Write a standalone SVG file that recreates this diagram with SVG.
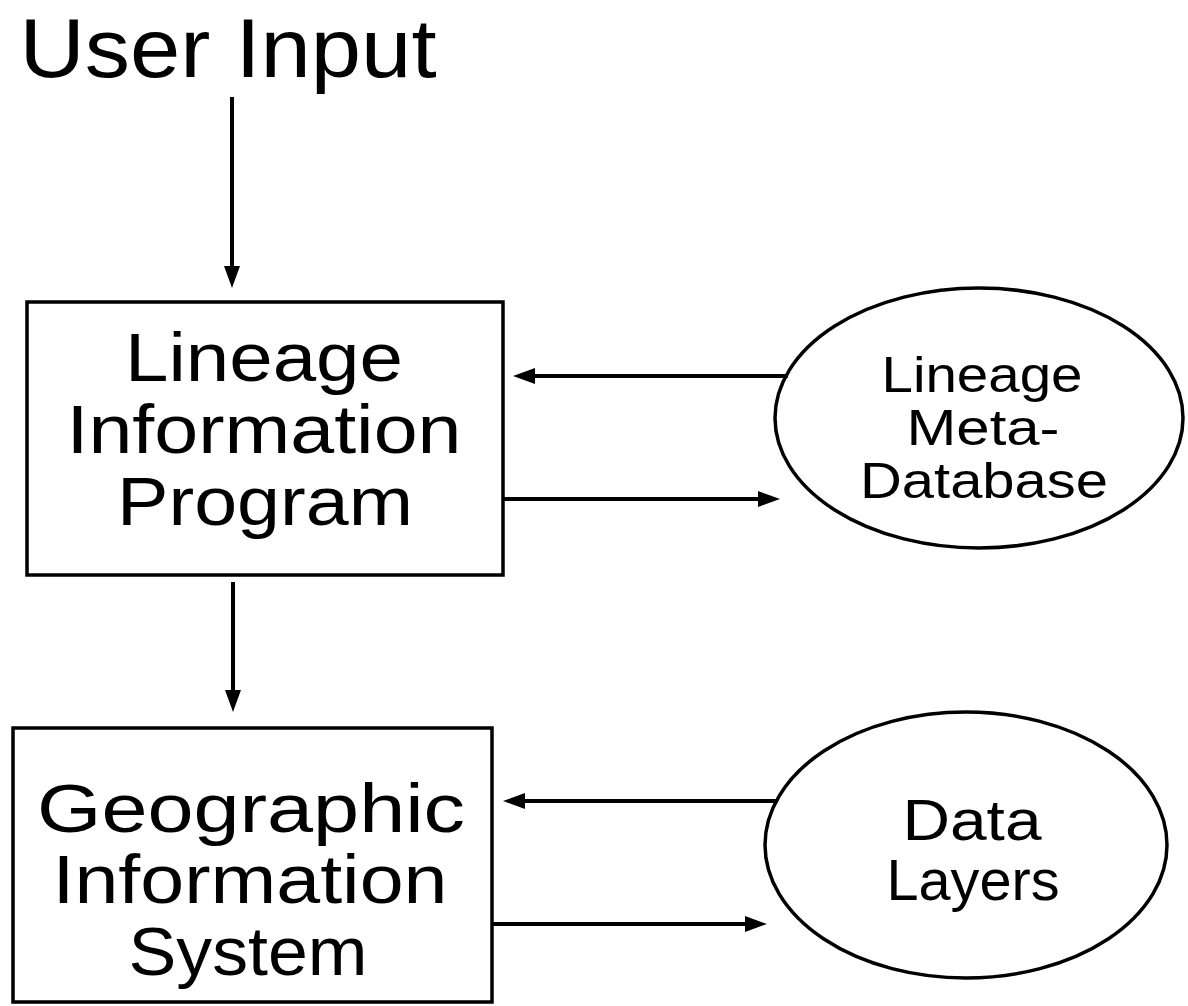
<svg xmlns="http://www.w3.org/2000/svg" width="1188" height="1006" viewBox="0 0 1188 1006">
<defs>
<style>
.t{font-family:"Liberation Sans","DejaVu Sans",Arial,sans-serif;fill:#000;text-anchor:middle}
.box{fill:#fff;stroke:#000;stroke-width:3.5}
.ell{fill:#fff;stroke:#000;stroke-width:3.5}
.c{stroke:#000;stroke-width:4;fill:none;marker-end:url(#ah)}
</style>
<marker id="ah" markerUnits="userSpaceOnUse" markerWidth="24" markerHeight="18" viewBox="0 0 24 18" refX="4" refY="9" orient="auto">
<path d="M0,1 L22,9 L0,17 Z" fill="#000"/>
</marker>
</defs>
<rect width="1188" height="1006" fill="#fff"/>
<g id="user-input">
<text class="t" x="228" y="77" font-size="84" textLength="417" lengthAdjust="spacingAndGlyphs">User  Input</text>
</g>
<g id="lineage-program">
<rect class="box" x="27" y="302" width="476" height="273"/>
<text class="t" x="264" y="381" font-size="68" textLength="278" lengthAdjust="spacingAndGlyphs">Lineage</text>
<text class="t" x="264" y="453" font-size="68" textLength="395" lengthAdjust="spacingAndGlyphs">Information</text>
<text class="t" x="265" y="525" font-size="68" textLength="296" lengthAdjust="spacingAndGlyphs">Program</text>
</g>
<g id="lineage-metadb">
<ellipse class="ell" cx="979" cy="418" rx="204" ry="130"/>
<text class="t" x="982" y="392" font-size="50" textLength="201" lengthAdjust="spacingAndGlyphs">Lineage</text>
<text class="t" x="983" y="445" font-size="50" textLength="153" lengthAdjust="spacingAndGlyphs">Meta-</text>
<text class="t" x="984" y="498" font-size="50" textLength="248" lengthAdjust="spacingAndGlyphs">Database</text>
</g>
<g id="gis">
<rect class="box" x="13" y="728" width="479" height="274"/>
<text class="t" x="251" y="832" font-size="68" textLength="428" lengthAdjust="spacingAndGlyphs">Geographic</text>
<text class="t" x="250" y="903" font-size="68" textLength="395" lengthAdjust="spacingAndGlyphs">Information</text>
<text class="t" x="248" y="975" font-size="68" textLength="239" lengthAdjust="spacingAndGlyphs">System</text>
</g>
<g id="data-layers">
<ellipse class="ell" cx="966" cy="845" rx="201" ry="133"/>
<text class="t" x="972" y="840" font-size="58" textLength="139" lengthAdjust="spacingAndGlyphs">Data</text>
<text class="t" x="973" y="900" font-size="58" textLength="173" lengthAdjust="spacingAndGlyphs">Layers</text>
</g>
<g id="connectors">
<line class="c" x1="232" y1="97" x2="232" y2="270"/>
<line class="c" x1="233" y1="582" x2="233" y2="694"/>
<line class="c" x1="788" y1="376" x2="531" y2="376"/>
<line class="c" x1="503" y1="499" x2="762" y2="499"/>
<line class="c" x1="777" y1="801" x2="521" y2="801"/>
<line class="c" x1="492" y1="924" x2="749" y2="924"/>
</g>
</svg>
